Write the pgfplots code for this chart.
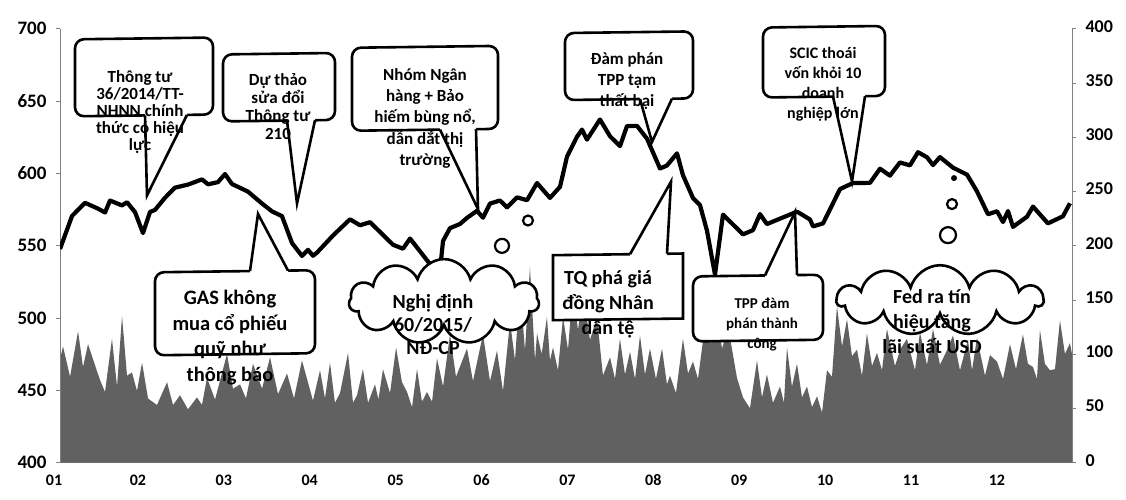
\documentclass[border=0pt]{standalone}
\usepackage{pgfplots}
\pgfplotsset{compat=1.18}
\usepackage{pgfplotstable}
\usepackage{fontspec}
\setmainfont{Carlito}
\usetikzlibrary{shapes.symbols}

\pgfplotstableread{
m v
1.093 95
1.128 107
1.210 79
1.303 121
1.361 88
1.419 109
1.559 76
1.617 65
1.698 114
1.757 70
1.815 135
1.873 80
1.931 83
1.989 66
2.048 92
2.118 59
2.222 53
2.339 74
2.409 53
2.490 62
2.583 49
2.688 60
2.746 53
2.804 78
2.898 58
3.037 100
3.107 68
3.189 72
3.258 59
3.340 91
3.445 68
3.538 97
3.631 63
3.736 82
3.817 59
3.910 94
4.038 57
4.120 85
4.178 59
4.236 92
4.294 55
4.353 64
4.446 101
4.504 55
4.551 62
4.620 86
4.679 55
4.760 72
4.800 58
4.853 86
4.935 64
5.005 106
5.074 74
5.133 65
5.191 51
5.249 86
5.307 56
5.365 65
5.424 56
5.482 96
5.552 70
5.633 118
5.703 79
5.831 105
5.901 75
6.017 118
6.099 75
6.180 103
6.250 66
6.332 130
6.390 94
6.448 164
6.506 103
6.564 180
6.623 94
6.646 119
6.700 100
6.762 134
6.797 94
6.832 106
6.890 85
6.949 134
7.007 104
7.065 162
7.123 122
7.181 156
7.263 113
7.344 134
7.414 80
7.496 97
7.554 77
7.612 114
7.670 81
7.729 102
7.787 77
7.845 117
7.903 81
7.961 105
8.031 77
8.101 105
8.159 72
8.194 80
8.264 64
8.345 114
8.404 82
8.462 93
8.520 77
8.578 112
8.660 136
8.695 110
8.741 136
8.800 105
8.858 121
8.893 115
8.974 78
9.044 60
9.125 50
9.207 94
9.265 60
9.323 81
9.393 55
9.475 70
9.521 55
9.556 106
9.614 70
9.673 91
9.731 60
9.789 70
9.847 51
9.906 61
9.964 46
10.022 85
10.080 79
10.138 144
10.197 107
10.255 132
10.313 98
10.371 104
10.429 80
10.487 119
10.546 89
10.604 101
10.662 85
10.720 123
10.813 89
10.880 105
10.953 114
11.046 85
11.104 120
11.186 90
11.256 123
11.337 90
11.410 102
11.489 117
11.570 85
11.663 113
11.710 85
11.768 115
11.861 80
11.919 99
12.001 93
12.071 77
12.152 109
12.222 86
12.303 118
12.361 91
12.420 88
12.466 77
12.501 122
12.559 91
12.617 85
12.676 86
12.734 131
12.792 100
12.850 110
12.874 100
}\voltable

\pgfplotstableread{
m p
1.093 547.6
1.233 570.4
1.384 579.5
1.535 575.5
1.617 572.8
1.675 581.1
1.815 577.7
1.873 579.9
1.966 573.1
2.059 558.6
2.141 573.2
2.199 574.6
2.315 583.0
2.432 590.0
2.583 592.1
2.746 595.7
2.816 592.3
2.932 593.8
3.014 599.4
3.095 592.5
3.212 589.2
3.282 587.2
3.445 579.0
3.561 573.6
3.677 570.3
3.794 551.7
3.910 542.8
3.980 547.0
4.038 542.9
4.085 545.1
4.271 556.9
4.469 568.1
4.585 564.0
4.702 566.1
4.818 559.4
4.970 550.5
5.086 547.8
5.168 554.8
5.284 546.0
5.400 537.1
5.517 533.0
5.552 553.1
5.633 562.0
5.750 564.9
5.831 569.1
5.948 574.0
6.017 569.2
6.099 579.0
6.215 581.1
6.297 576.4
6.413 583.3
6.530 581.3
6.646 593.2
6.797 582.9
6.914 590.6
6.995 611.4
7.112 625.2
7.170 630.1
7.228 623.2
7.379 637.1
7.496 625.5
7.612 618.7
7.694 632.6
7.810 632.7
7.927 623.8
8.078 603.2
8.159 605.3
8.276 613.7
8.345 598.6
8.462 582.8
8.543 578.0
8.625 560.2
8.718 529.9
8.811 571.3
8.928 564.5
9.044 557.7
9.160 560.6
9.242 571.7
9.323 564.8
9.440 567.7
9.673 573.4
9.824 568.0
9.859 563.2
9.976 565.3
10.092 579.2
10.173 589.0
10.325 593.2
10.522 593.3
10.639 603.1
10.755 598.3
10.871 607.4
10.988 605.4
11.081 614.5
11.186 611.0
11.256 605.6
11.337 611.1
11.489 603.8
11.652 599.0
11.768 587.4
11.896 571.6
12.001 573.7
12.071 566.2
12.129 573.8
12.187 562.9
12.350 569.9
12.420 576.9
12.594 565.3
12.769 570.2
12.850 579.2
}\pricetable

\newcommand\ptr[6]{%
  \fill[white] (#1,#3+#6) -- (#1,#3) -- (#4,#5) -- (#2,#3) -- (#2,#3+#6) -- cycle;
  \draw[line width=2.6pt, line join=miter] (#1,#3) -- (#4,#5) -- (#2,#3);}

\begin{document}
\begin{tikzpicture}
\useasboundingbox (0,0) rectangle (1126pt,499pt);
\begin{axis}[at={(60pt,36.5pt)}, anchor=south west, scale only axis,
  width=1012pt, height=434pt,
  xmin=1.093, xmax=12.874, ymin=0, ymax=400,
  axis y line*=right, axis x line*=bottom,
  axis line style={gray, line width=0.6pt},
  ytick={0,50,...,400},
  xtick={2,...,12}, xticklabels={02,03,04,05,06,07,08,09,10,11,12},
  extra x ticks={1.093}, extra x tick labels={01},
  extra x tick style={xticklabel style={xshift=-6pt}},
  xtick style={draw=none},
  ytick style={gray, line width=0.5pt}, major tick length=4pt, tick align=outside,
  typeset ticklabels with strut,
  /pgf/number format/assume math mode=true,
  yticklabel style={font=\bfseries\fontsize{18}{18}\selectfont, xshift=6pt},
  xticklabel style={font=\bfseries\fontsize{16}{16}\selectfont, yshift=-4pt},
]
\addplot[draw=none, fill=black!62] table[x=m,y=v]{\voltable} \closedcycle;
\end{axis}
\begin{axis}[at={(60pt,36.5pt)}, anchor=south west, scale only axis,
  width=1012pt, height=434pt,
  xmin=1.093, xmax=12.874, ymin=400, ymax=700,
  axis y line*=left, hide x axis,
  axis line style={gray, line width=0.6pt},
  ytick={400,450,...,700},
  ytick style={gray, line width=0.5pt}, major tick length=4pt, tick align=outside,
  /pgf/number format/assume math mode=true,
  yticklabel style={font=\bfseries\fontsize{19}{19}\selectfont, xshift=-6pt},
]
\addplot[black, line width=4.2pt, line join=round] table[x=m,y=p]{\pricetable};
\end{axis}

\begin{scope}[x=1pt, y=1pt, cm={1,0.0128,0,-1,(0pt,491.73pt)},
  bx/.style={draw=black, fill=white, line width=2.6pt, rounded corners=9pt},
  tx/.style={font=\bfseries\fontsize{#1}{#1}\selectfont, align=center, inner sep=0pt}]
% A
\filldraw[bx] (75,33) rectangle (213,110);
\ptr{145}{187}{110}{147}{190}{-3}
% B
\filldraw[bx] (223,50) rectangle (335,117);
\ptr{287}{315}{117}{297}{200}{-3}
% C
\filldraw[bx] (352,45) rectangle (498,128);
\ptr{440}{476}{128}{478}{208}{-3}
% D
\filldraw[bx] (565,33) rectangle (693,100);
\ptr{640}{672}{100}{652}{143}{-3}
% E
\filldraw[bx] (763,30) rectangle (885,100);
\ptr{833}{865}{100}{852}{185}{-3}
% F
\filldraw[bx] (155,267) rectangle (315,350);
\ptr{250}{288}{267}{258}{210}{3}
% H
\filldraw[bx, sharp corners] (553,255) rectangle (683,320);
\ptr{630}{667}{255}{671}{183}{3}
% I
\filldraw[bx] (693,278) rectangle (823,343);
\ptr{765}{797}{278}{795}{215}{3}
% G cloud
\node[cloud, cloud puffs=11, aspect=2.2, draw, fill=white, line width=2.6pt,
  minimum width=190pt, minimum height=85pt, inner sep=0pt] at (444,300) {};
\filldraw[fill=white, line width=2.2pt] (502,245) circle[radius=7pt];
\filldraw[fill=white, line width=2.2pt] (528,220) circle[radius=5pt];
% J cloud
\node[cloud, cloud puffs=11, aspect=2.9, draw, fill=white, line width=2.6pt,
  minimum width=206pt, minimum height=70pt, inner sep=0pt] at (940,305) {};
\filldraw[fill=white, line width=2.2pt] (948,240) circle[radius=8pt];
\filldraw[fill=white, line width=2.2pt] (952,209) circle[radius=5pt];
\fill (954,183) circle[radius=3pt];
% texts
\node[tx=17] at (140,106.5) {\baselineskip=21.5pt Thông tư\\36/2014/TT-\\NHNN chính\\thức có hiệu\\lực};
\node[tx=17] at (278,102.5) {Dự thảo\\[1pt]sửa đổi\\[1pt]Thông tư\\[1pt]210};
\node[tx=17] at (425,117) {Nhóm Ngân\\[4pt]hàng + Bảo\\[4pt]hiếm bùng nổ,\\[4pt]dẫn dắt thị\\[4pt]trường};
\node[tx=17] at (627,82) {Đàm phán\\[4pt]TPP tạm\\[4pt]thất bại};
\node[tx=16] at (823,87.5) {SCIC thoái\\[4pt]vốn khỏi 10\\[4pt]doanh\\[4pt]nghiệp lớn};
\node[tx=20.5] at (230,333) {GAS không\\[5pt]mua cổ phiếu\\[5pt]quỹ như\\[5pt]thông báo};
\node[tx=20] at (433,323) {Nghị định\\[3pt]60/2015/\\[3pt]NĐ-CP};
\node[tx=20] at (608,305) {TQ phá giá\\[5pt]đồng Nhân\\[5pt]dân tệ};
\node[tx=15] at (762,327) {TPP đàm\\[5pt]phán thành\\[5pt]công};
\node[tx=20] at (932,326) {Fed ra tín\\[5pt]hiệu tăng\\[5pt]lãi suất USD};
\end{scope}
\end{tikzpicture}
\end{document}
